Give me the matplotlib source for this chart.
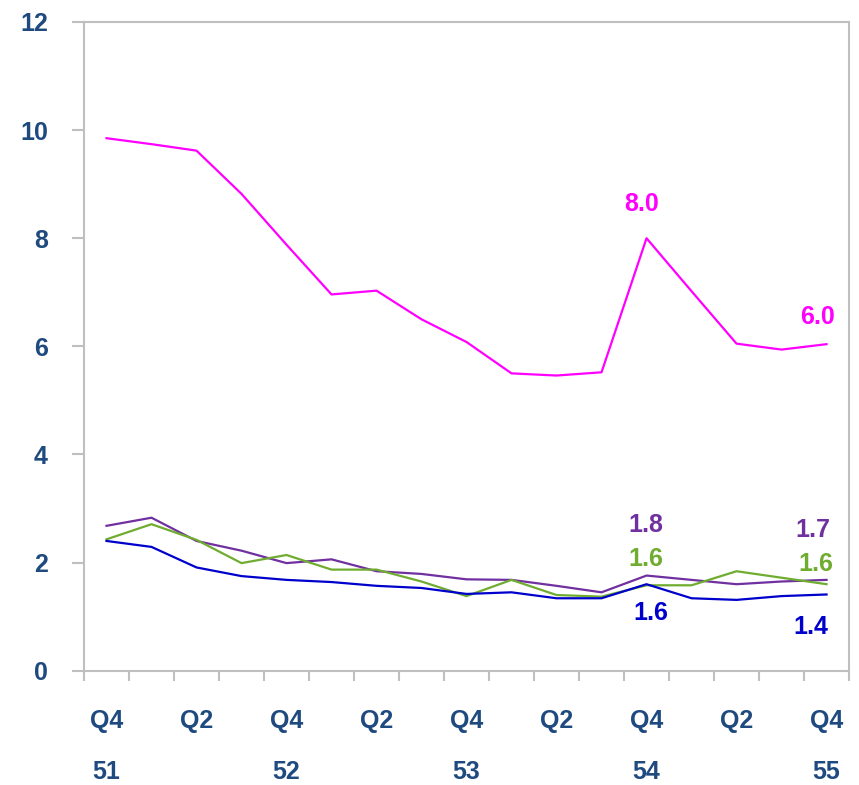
import matplotlib.pyplot as plt
from matplotlib.ticker import FixedLocator

plt.rcParams['font.family'] = ['Liberation Sans', 'DejaVu Sans']

# quarters Q4 51 .. Q4 55
quarters = ['Q4', 'Q2', 'Q4', 'Q2', 'Q4', 'Q2', 'Q4', 'Q2', 'Q4']
years = ['51', '', '52', '', '53', '', '54', '', '55']

magenta = [9.85, 9.74, 9.62, 8.82, 7.88, 6.96, 7.03, 6.50, 6.08,
           5.50, 5.46, 5.52, 8.00, 7.02, 6.05, 5.94, 6.04]
purple = [2.68, 2.83, 2.40, 2.22, 1.99, 2.06, 1.84, 1.79, 1.69,
          1.68, 1.57, 1.45, 1.76, 1.68, 1.60, 1.65, 1.68]
green = [2.43, 2.71, 2.42, 1.99, 2.14, 1.87, 1.87, 1.65, 1.38,
         1.68, 1.40, 1.37, 1.58, 1.58, 1.84, 1.72, 1.60]
blue = [2.40, 2.29, 1.91, 1.75, 1.68, 1.64, 1.57, 1.53, 1.42,
        1.45, 1.34, 1.34, 1.60, 1.34, 1.31, 1.38, 1.41]

C_MAG = '#FF00FF'
C_PUR = '#7030A0'
C_GRN = '#6FAC2F'
C_BLU = '#0000CC'
C_TXT = '#1F4A7F'
C_AX = '#BFBFBF'
FS = 18

fig = plt.figure(figsize=(8.59, 7.85), dpi=100)
ax = fig.add_axes([0.0978, 0.1456, 0.8906, 0.8264])

x = list(range(len(magenta)))
ax.plot(x, magenta, color=C_MAG, lw=1.6)
ax.plot(x, purple, color=C_PUR, lw=1.6)
ax.plot(x, green, color=C_GRN, lw=1.6)
ax.plot(x, blue, color=C_BLU, lw=1.6)

ax.set_xlim(-0.5, len(x) - 0.5)
ax.set_ylim(0, 12)
ax.set_yticks([0, 2, 4, 6, 8, 10, 12])

for s in ax.spines.values():
    s.set_color(C_AX)
    s.set_linewidth(1.5)

ax.tick_params(axis='y', direction='out', length=9, width=1.5, color=C_AX,
               pad=17, labelsize=FS, labelcolor=C_TXT)
for t in ax.get_yticklabels():
    t.set_fontweight('bold')

ax.xaxis.set_major_locator(FixedLocator([i - 0.5 for i in range(len(x) + 1)]))
ax.set_xticklabels([])
ax.tick_params(axis='x', direction='out', length=7.5, width=1.5, color=C_AX)

for i, (q, y) in enumerate(zip(quarters, years)):
    ax.annotate(q, xy=(2 * i, 0), xycoords=('data', 'axes fraction'),
                xytext=(0, -50), textcoords='offset pixels', ha='center', va='center',
                fontsize=FS, fontweight='bold', color=C_TXT)
    if y:
        ax.annotate(y, xy=(2 * i, 0), xycoords=('data', 'axes fraction'),
                    xytext=(0, -101), textcoords='offset pixels', ha='center', va='center',
                    fontsize=FS, fontweight='bold', color=C_TXT)

# value labels
labels = [
    (magenta, C_MAG, 12, (-5, 34)), (magenta, C_MAG, 16, (-9, 27)),
    (purple, C_PUR, 12, (-1, 51)), (purple, C_PUR, 16, (-14, 50)),
    (green, C_GRN, 12, (-1, 26)), (green, C_GRN, 16, (-11, 20)),
    (blue, C_BLU, 12, (4, -29)), (blue, C_BLU, 16, (-16, -33)),
]
for series, col, idx, off in labels:
    ax.annotate('%.1f' % series[idx], xy=(idx, series[idx]), xytext=off,
                textcoords='offset pixels', ha='center', va='center',
                fontsize=FS, fontweight='bold', color=col)

fig.savefig('out.png', dpi=100)
